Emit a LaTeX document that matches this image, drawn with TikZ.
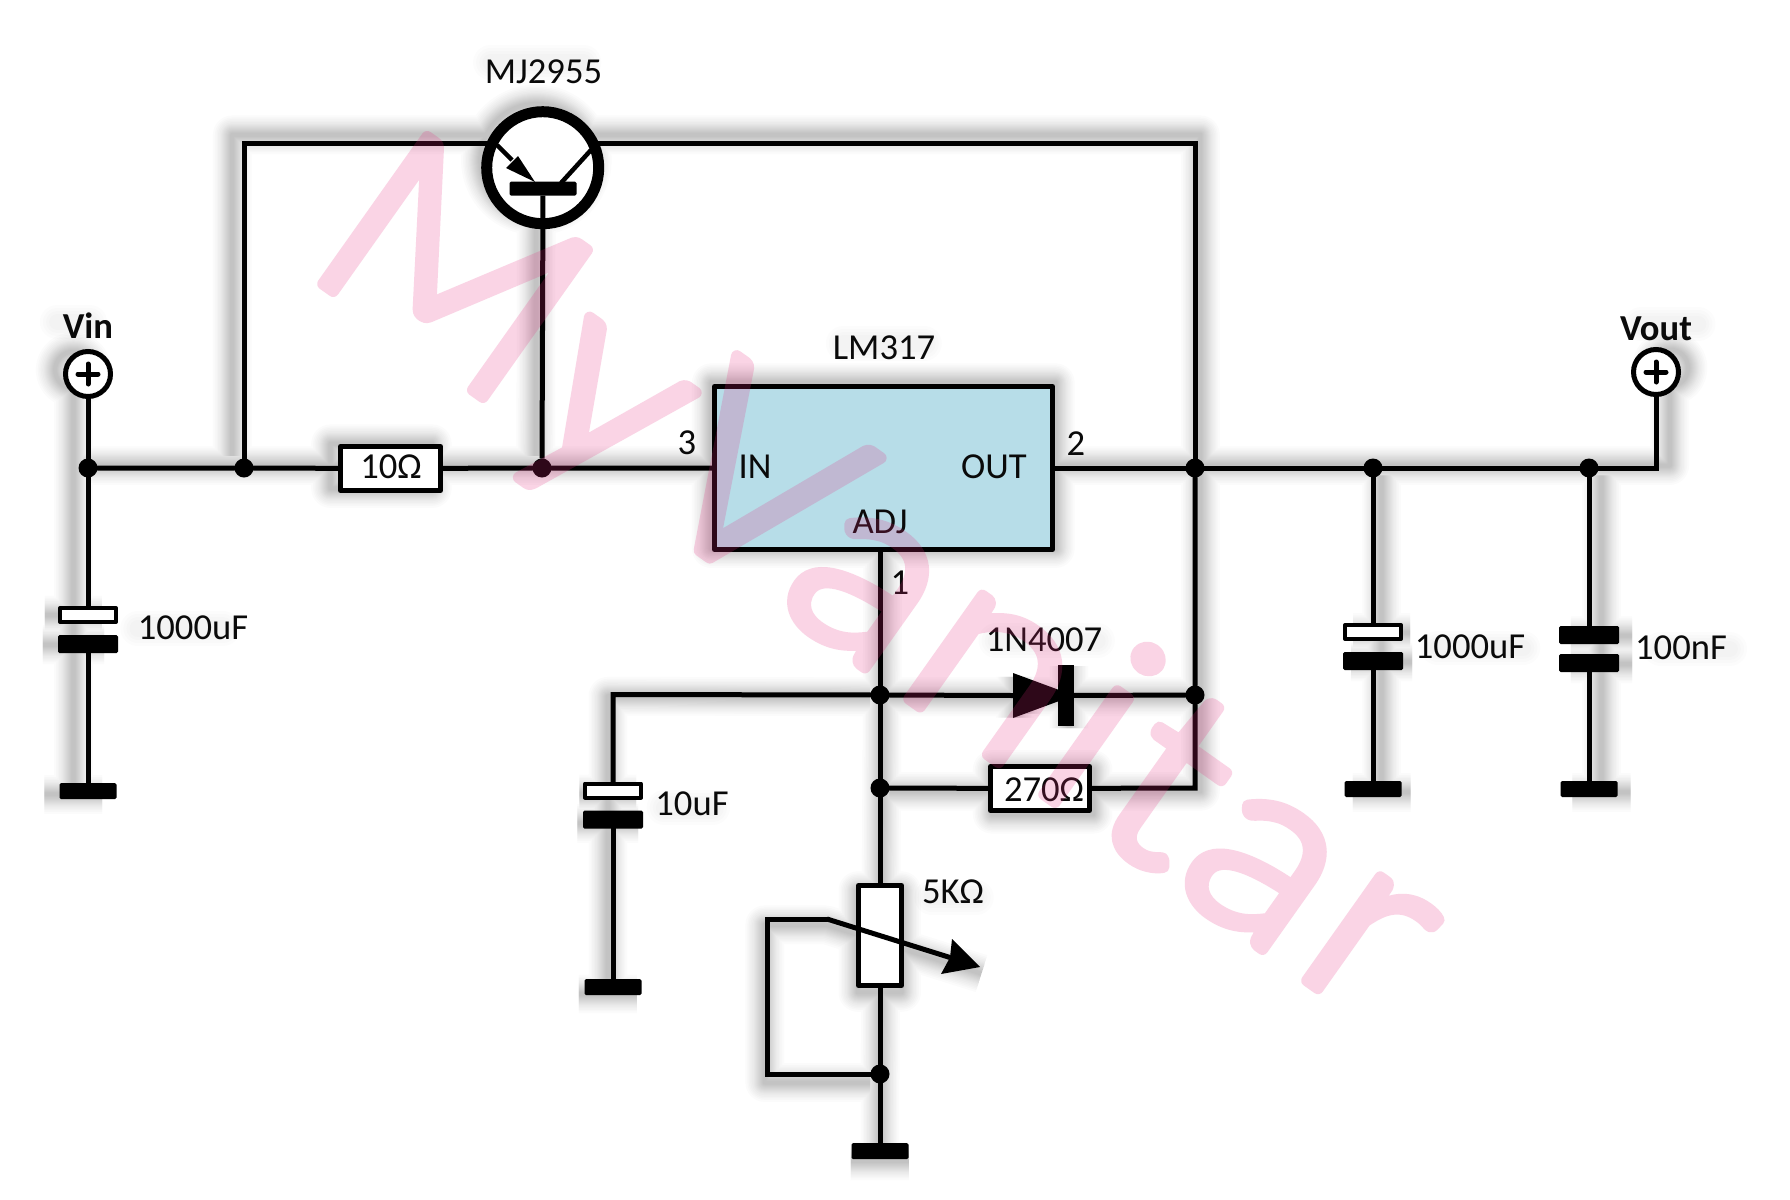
\documentclass[tikz,border=0pt]{standalone}
\usepackage{fontspec}
\setmainfont{Carlito}
\newfontfamily\wmfont[FakeBold=4.5,LetterSpace=3.8,FakeStretch=1.1]{Lato Light}
\usetikzlibrary{shapes.geometric}
\pgfdeclarelayer{shadowlayer}
\pgfdeclarelayer{wirelayer}
\pgfdeclarelayer{marklayer}
\pgfsetlayers{shadowlayer,wirelayer,main,marklayer}
\definecolor{icblue}{HTML}{B7DDE8}
\definecolor{wmpink}{HTML}{E6287D}
\definecolor{ink}{HTML}{0A0A0A}
\tikzset{
  wire/.style={line width=5pt,draw=black,line join=miter,line cap=round},
  dot/.style={circle,fill=black,minimum size=19pt,inner sep=0pt,outer sep=0pt},
  whitebox/.style={rectangle,draw=black,fill=white,line width=5pt,inner sep=0pt,outer sep=0pt,line join=round},
  blackbar/.style={rectangle,fill=black,inner sep=0pt,outer sep=0pt,rounded corners=1.5pt},
  ground/.style={blackbar,minimum width=57pt,minimum height=16pt},
  capwhite/.style={whitebox,line width=4pt,minimum width=56pt,minimum height=14pt},
  capblack/.style={blackbar,minimum width=60pt,minimum height=18pt},
  term/.style={circle,draw=black,fill=white,line width=5pt,minimum size=45pt,inner sep=0pt,outer sep=0pt},
  lab/.style={font=\fontsize{36.6}{40}\selectfont,text=ink,inner sep=0pt,outer sep=0pt,text height=23pt,text depth=0pt},
  boldlab/.style={lab,font=\fontsize{36.6}{40}\selectfont\bfseries},
}
\begin{document}
\begin{tikzpicture}[x=1pt,y=-1pt]
\useasboundingbox (0,0) rectangle (1790,1199);
\begin{pgfonlayer}{shadowlayer}
\fill[white] (0,0) rectangle (1790,1199);
\end{pgfonlayer}

% components -------------------------------------------------
\node[rectangle,draw=black,fill=icblue,line width=5pt,minimum width=338pt,minimum height=163pt,inner sep=0pt,outer sep=0pt,line join=round] (IC) at (883.5,468) {};
\node[lab] (lIN) at (755,467) {IN};
\node[lab] (lOUT) at (994,467) {OUT};
\node[lab] (lADJ) at (880,522) {ADJ};
\node[lab] (lLM) at (884,348) {LM317};
\node[lab] (l3) at (687,443) {3};
\node[lab] (l2) at (1076,444) {2};
\node[lab] (l1) at (900,583) {1};
\node[lab] (lMJ) at (543.5,72) {MJ2955};

\node[term] (Vin) at (88,374) {};
\node[term] (Vout) at (1656,372) {};
\draw[line width=5pt,line cap=round] ([xshift=-10pt]Vin.center) -- ([xshift=10pt]Vin.center);
\draw[line width=5pt,line cap=round] ([yshift=-10pt]Vin.center) -- ([yshift=10pt]Vin.center);
\draw[line width=5pt,line cap=round] ([xshift=-10pt]Vout.center) -- ([xshift=10pt]Vout.center);
\draw[line width=5pt,line cap=round] ([yshift=-10pt]Vout.center) -- ([yshift=10pt]Vout.center);
\node[boldlab] (lVin) at (88,327) {Vin};
\node[boldlab] (lVout) at (1656,329) {Vout};

\node[dot] (j1) at (88,468) {};
\node[dot] (j2) at (244,468) {};
\node[dot] (j3) at (542,468) {};
\node[dot] (j4) at (1195,468) {};
\node[dot] (j5) at (1373,468) {};
\node[dot] (j6) at (1589,468) {};
\node[dot] (j7) at (880,695) {};
\node[dot] (j8) at (1195,695) {};
\node[dot] (j9) at (880,788) {};
\node[dot] (j10) at (880,1074) {};

\node[whitebox,minimum width=100pt,minimum height=44pt] (R10) at (390.5,468.5) {};
\node[lab] (lR10) at (391,467) {10Ω};
\node[whitebox,minimum width=99pt,minimum height=44pt] (R270) at (1040,788.5) {};
\node[lab] (lR270) at (1044,790) {270Ω};
\node[whitebox,minimum width=43pt,minimum height=100pt] (P) at (880,935.5) {};
\node[lab] (lP) at (953,892) {5KΩ};

\node[capwhite] (C1a) at (88,615) {};
\node[capblack] (C1b) at (88,644) {};
\node[ground] (G1) at (88,791) {};
\node[lab] (lC1) at (193,628) {1000uF};

\node[capwhite] (C2a) at (613,790.5) {};
\node[capblack] (C2b) at (613,819.5) {};
\node[ground] (G2) at (613,987) {};
\node[lab] (lC2) at (692,804) {10uF};

\node[capwhite] (C3a) at (1373,632) {};
\node[capblack] (C3b) at (1373,661) {};
\node[ground] (G3) at (1373,789) {};
\node[lab] (lC3) at (1470,647) {1000uF};

\node[capblack] (C4a) at (1589,635) {};
\node[capblack] (C4b) at (1589,663) {};
\node[ground] (G4) at (1589,789) {};
\node[lab] (lC4) at (1681,648) {100nF};

\node[ground] (G5) at (880,1151) {};

\node[isosceles triangle,isosceles triangle stretches,fill=black,minimum width=45pt,minimum height=61pt,inner sep=0pt,outer sep=0pt,anchor=lower side] (Dt) at (1013,695.5) {};
\node[blackbar,rounded corners=0pt,minimum width=16pt,minimum height=61pt] (Db) at (1066,695.5) {};
\node[lab] (lD) at (1044,640) {1N4007};

% transistor
\node[circle,draw=black,fill=white,line width=11pt,minimum size=112pt,inner sep=0pt,outer sep=0pt] (Q) at (542.7,167.7) {};
\node[blackbar,minimum width=67pt,minimum height=14pt] (Qb) at (543,188.7) {};
\coordinate (QE) at (493,143);
\coordinate (QC) at (593,143);
\coordinate (QEi) at (497,145);
\coordinate (QEm) at (512,160);
\coordinate (QEt) at (535,182);
\coordinate (QCi) at (591,150);
\coordinate (QCt) at (561,183);
\draw[line width=4.5pt] (QEi) -- (QEm);
\fill[black] (QEt) -- (518,156) -- (506,168) -- cycle;
\draw[line width=4.5pt] (QCi) -- (QCt);
\draw[line width=5pt] (Qb) -- (j3);

% pot wiper
\coordinate (Wl) at (767,919);
\coordinate (Wk) at (827,919);
\coordinate (Wa) at (950,957.5);
\coordinate (Wt) at (980,967);
\draw[line width=5pt,line join=round] (Wk) -- (Wa);
\fill[black] (Wt) -- (952,939) -- (Wa) -- (941,974) -- cycle;

% corner points
\coordinate (TL) at (244,143);
\coordinate (TR) at (1195,143);
\coordinate (OC) at (1656,468);
\coordinate (CC) at (613,694.5);
\coordinate (RB) at (1195,788);
\coordinate (WB) at (767,1074);

% connectors
\begin{pgfonlayer}{wirelayer}
\draw[wire] (Vin) -- (j1) -- (C1a);
\draw[wire] (C1b) -- (G1);
\draw[wire] (j1) -- (j2) -- (R10);
\draw[wire] (R10) -- (j3) -- (IC);
\draw[wire] (j2) -- (TL) -- (QE);
\draw[wire] (QC) -- (TR) -- (j4);
\draw[wire] (IC) -- (j4) -- (j5) -- (j6) -- (OC) -- (Vout);
\draw[wire] (j4) -- (j8) -- (RB) -- (R270);
\draw[wire] (R270) -- (j9);
\draw[wire] (j5) -- (C3a);
\draw[wire] (C3b) -- (G3);
\draw[wire] (j6) -- (C4a);
\draw[wire] (C4b) -- (G4);
\draw[wire] (IC.south -| j7) -- (j7) -- (j9) -- (P);
\draw[wire] (P) -- (j10) -- (G5);
\draw[wire] (j7) -- (Dt.lower side);
\draw[wire] (Db) -- (j8);
\draw[wire] (j7) -- (CC) -- (C2a);
\draw[wire] (C2b) -- (G2);
\draw[wire] (j10) -- (WB) -- (Wl) -- (Wk);
\end{pgfonlayer}

% soft shadow: the whole drawing enlarged a little about its centre
\newcommand{\shadowpath}{%
  (Vin.center) -- (G1.center) (G1.west) -- (G1.east)
  (C1a.west) -- (C1a.east) (C1b.west) -- (C1b.east)
  (j1) -- (OC) -- (Vout.center) (j2) -- (TL) -- (TR) -- (RB) -- (j9)
  (j3) -- (Q.center) (Q.center) circle[radius=55pt]
  (j5) -- (G3.center) (G3.west) -- (G3.east)
  (C3a.west) -- (C3a.east) (C3b.west) -- (C3b.east)
  (j6) -- (G4.center) (G4.west) -- (G4.east)
  (C4a.west) -- (C4a.east) (C4b.west) -- (C4b.east)
  (IC.north west) rectangle (IC.south east)
  (Vin.center) circle[radius=18pt] (Vout.center) circle[radius=18pt]
  (R10.north west) rectangle (R10.south east)
  (R270.north west) rectangle (R270.south east)
  (P.north west) rectangle (P.south east)
  (IC.center) -- (G5.center) (G5.west) -- (G5.east)
  (j7) -- (j8) (Db.north) -- (Db.south) (Dt.lower side) ++(0,-20) -- ++(0,40) ++(10,-4) -- ++(0,-32)
  (j7) -- (CC) -- (G2.center) (G2.west) -- (G2.east)
  (C2a.west) -- (C2a.east) (C2b.west) -- (C2b.east)
  (j10) -- (WB) -- (Wl) -- (Wk) -- (Wt)
}
\newcommand{\shadowtext}{%
  ([xshift=-42pt]lC1.center) -- ([xshift=42pt]lC1.center)
  ([xshift=-42pt]lC3.center) -- ([xshift=42pt]lC3.center)
  ([xshift=-34pt]lC4.center) -- ([xshift=34pt]lC4.center)
  ([xshift=-24pt]lC2.center) -- ([xshift=24pt]lC2.center)
  ([xshift=-22pt]lP.center) -- ([xshift=22pt]lP.center)
  ([xshift=-50pt]lD.center) -- ([xshift=50pt]lD.center)
  ([xshift=-46pt]lMJ.center) -- ([xshift=46pt]lMJ.center)
  ([xshift=-40pt]lLM.center) -- ([xshift=40pt]lLM.center)
  ([xshift=-16pt]lVin.center) -- ([xshift=16pt]lVin.center)
  ([xshift=-28pt]lVout.center) -- ([xshift=28pt]lVout.center)
}
\begin{pgfonlayer}{shadowlayer}
\begin{scope}[transform canvas={shift={(895,600)},scale=1.018,shift={(-895,-600)}}]
\foreach \w in {4,6,8,10,12,14,16,18,20,22,25,28,31,34,38}{
  \draw[line width=\w pt,draw=black,opacity=.014,line join=round] \shadowpath;
}
\foreach \w in {16,22,28,34}{
  \draw[line width=\w pt,draw=black,opacity=.012,line cap=round] \shadowtext;
}
\end{scope}
\end{pgfonlayer}

% watermark
\begin{pgfonlayer}{marklayer}
\begin{scope}[transparency group,opacity=.2]
\node[anchor=base west,rotate=-35.3,inner sep=0pt,outer sep=0pt,text=wmpink,font=\wmfont\fontsize{255}{300}\selectfont] (WM) at (299,267) {\special{pdf:code 1 j 1 J}MyVanitar};
\end{scope}
\end{pgfonlayer}
\end{tikzpicture}
\end{document}
